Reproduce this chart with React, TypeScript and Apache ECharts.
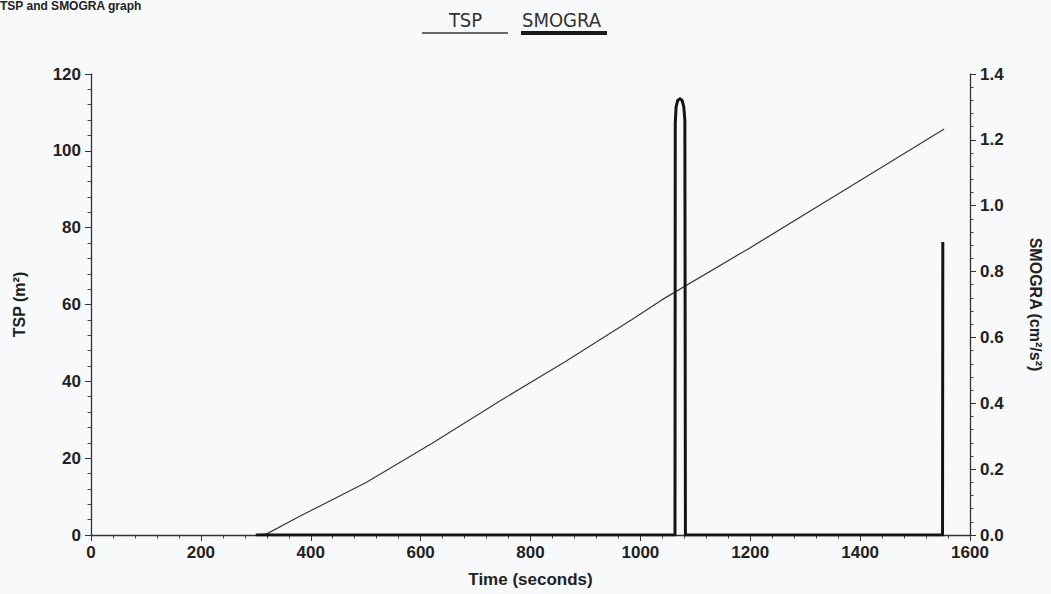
import React, { useEffect, useRef } from "react";
import * as echarts from "echarts";

const tspTime = [300, 320, 379, 500, 621, 742, 863, 984, 1039, 1200, 1400, 1553];
const tspValue = [0, 0.3, 4.8, 13.6, 23.9, 34.7, 45.1, 56.0, 61.2, 74.8, 92.3, 105.7];

const smograTime = [300, 1063, 1063.5, 1065, 1068, 1072, 1076, 1079, 1081, 1082, 1550, 1550.5];
const smograValue = [0, 0, 1.25, 1.3, 1.32, 1.325, 1.32, 1.3, 1.26, 0, 0, 0.89];

const xTicks = { min: 0, max: 1600, interval: 200 };
const leftTicks = { min: 0, max: 120, interval: 20 };
const rightTicks = { min: 0, max: 1.4, interval: 0.2 };

const seriesNames = ["TSP", "SMOGRA"];
const titleText = "TSP and SMOGRA graph";

const labelFont = "'Liberation Sans', Arial, sans-serif";
const legendFont = "'Liberation Sans Narrow', 'DejaVu Sans Condensed', 'Liberation Sans', sans-serif";

export default function App() {
  const ref = useRef<HTMLDivElement>(null);

  useEffect(() => {
    if (!ref.current) return;
    const chart = echarts.init(ref.current, null, { renderer: "svg" });
    const axisCommon = {
      axisLine: { show: true, lineStyle: { color: "#333", width: 1.3 } },
      axisTick: { show: true, inside: false, length: 6, lineStyle: { color: "#333", width: 1 } },
      minorTick: { show: true, splitNumber: 5, length: 3.5, lineStyle: { color: "#444", width: 1 } },
      splitLine: { show: false },
      axisLabel: { color: "#222", fontFamily: labelFont, fontWeight: "bold" as const, fontSize: 17 },
      nameTextStyle: { color: "#222", fontFamily: labelFont, fontWeight: "bold" as const, fontSize: 15 },
    };
    chart.setOption({
      animation: false,
      backgroundColor: "#f8f9fb",
      grid: { left: 91, right: 78, top: 74, bottom: 59, containLabel: false },
      graphic: [
        {
          type: "text",
          left: 0,
          top: 0,
          style: { text: titleText, fontFamily: labelFont, fontWeight: "bold", fontSize: 12, fill: "#222" },
        },
        {
          type: "text",
          x: 465.5,
          y: 20,
          style: { text: seriesNames[0], fontFamily: legendFont, fontSize: 20, fill: "#333", align: "center", verticalAlign: "middle" },
        },
        { type: "line", shape: { x1: 422, y1: 33, x2: 508, y2: 33 }, style: { stroke: "#3a3a3a", lineWidth: 1.5 } },
        {
          type: "text",
          x: 561.5,
          y: 20,
          style: { text: seriesNames[1], fontFamily: legendFont, fontSize: 20, fill: "#333", align: "center", verticalAlign: "middle" },
        },
        { type: "line", shape: { x1: 521, y1: 33, x2: 607, y2: 33 }, style: { stroke: "#1a1a1a", lineWidth: 4 } },
      ],
      xAxis: {
        type: "value",
        ...xTicks,
        ...axisCommon,
        axisLabel: { ...axisCommon.axisLabel, margin: 9, formatter: (v: number) => String(v) },
        name: "Time (seconds)",
        nameLocation: "middle",
        nameGap: 36,
        nameTextStyle: { ...axisCommon.nameTextStyle, fontSize: 17 },
      },
      yAxis: [
        {
          type: "value",
          position: "left",
          ...leftTicks,
          ...axisCommon,
          axisLabel: { ...axisCommon.axisLabel, margin: 10, formatter: (v: number) => String(v) },
          name: "TSP (m²)",
          nameLocation: "middle",
          nameGap: 64,
          nameRotate: 90,
          nameTextStyle: { ...axisCommon.nameTextStyle, fontSize: 16 },
        },
        {
          type: "value",
          position: "right",
          ...rightTicks,
          ...axisCommon,
          axisLabel: { ...axisCommon.axisLabel, margin: 10, formatter: (v: number) => v.toFixed(1) },
          name: "SMOGRA (cm²/s²)",
          nameLocation: "middle",
          nameGap: 57,
          nameRotate: -90,
          nameTextStyle: { ...axisCommon.nameTextStyle, fontSize: 16 },
        },
      ],
      series: [
        {
          name: seriesNames[0],
          type: "line",
          yAxisIndex: 0,
          showSymbol: false,
          data: tspTime.map((t, i) => [t, tspValue[i]]),
          lineStyle: { color: "#3a3a3a", width: 1.2 },
          z: 3,
        },
        {
          name: seriesNames[1],
          type: "line",
          yAxisIndex: 1,
          showSymbol: false,
          data: smograTime.map((t, i) => [t, smograValue[i]]),
          lineStyle: { color: "#151515", width: 3, join: "round", cap: "butt" },
          z: 4,
        },
      ],
    });
    return () => chart.dispose();
  }, []);

  return <div ref={ref} style={{ position: "absolute", left: 0, top: 0, width: 1051, height: 594 }} />;
}
